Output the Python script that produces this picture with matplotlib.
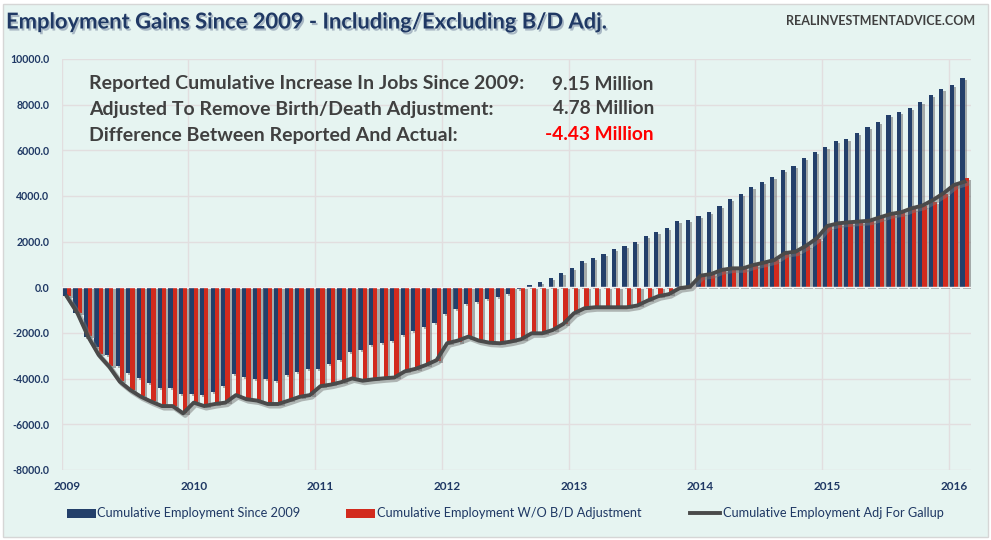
import matplotlib
matplotlib.use("Agg")
import matplotlib.pyplot as plt
import matplotlib.patheffects as pe
from matplotlib.patches import Rectangle
from matplotlib.lines import Line2D
import numpy as np

# ---------------- data ----------------
years = ["2009", "2010", "2011", "2012", "2013", "2014", "2015", "2016"]

# Cumulative employment since 2009 (thousands), Jan 2009 .. Feb 2016
reported = [
    -400, -1110, -2160, -2600, -2960, -3445, -3740, -3960, -4180, -4400, -4400, -4660,
    -4660, -4715, -4570, -4320, -3800, -3910, -4000, -4030, -4090, -3840, -3700, -3590,
    -3560, -3375, -3180, -2820, -2745, -2525, -2425, -2350, -2090, -1915, -1740, -1550,
    -1180, -935, -720, -630, -500, -410, -280, -90, 100, 230, 410, 625,
    845, 1150, 1280, 1455, 1675, 1820, 1985, 2245, 2420, 2610, 2915, 2945,
    3120, 3295, 3560, 3865, 4085, 4405, 4625, 4830, 5135, 5310, 5660, 5925,
    6140, 6405, 6495, 6755, 7020, 7240, 7545, 7675, 7850, 8115, 8420, 8680,
    8855, 9150,
]

# Cumulative employment without birth/death adjustment (thousands)
without_bd = [
    -380, -1120, -2140, -2940, -3460, -4110, -4480, -4770, -4990, -5180, -5190, -5500,
    -5040, -5180, -5100, -5040, -4700, -4880, -4950, -5100, -5100, -4950, -4790, -4715,
    -4320, -4250, -4140, -3980, -4080, -4020, -3975, -3940, -3670, -3560, -3400, -3210,
    -2460, -2380, -2235, -2330, -2420, -2440, -2370, -2265, -2010, -2005, -1860, -1605,
    -1130, -915, -870, -870, -870, -870, -790, -570, -380, -290, -30, 20,
    540, 590, 770, 830, 840, 980, 1090, 1200, 1480, 1530, 1800, 2120,
    2655, 2780, 2830, 2870, 2900, 3050, 3190, 3270, 3440, 3560, 3750, 4080,
    4550, 4780,
]

# Cumulative employment adjusted for Gallup (thousands)
gallup = [
    -410, -1140, -2160, -2960, -3475, -4130, -4500, -4790, -5010, -5200, -5200, -5520,
    -5050, -5200, -5110, -5050, -4720, -4900, -4960, -5110, -5110, -4960, -4800, -4720,
    -4330, -4260, -4150, -3990, -4090, -4030, -3985, -3950, -3680, -3570, -3400, -3190,
    -2450, -2335, -2160, -2335, -2425, -2450, -2380, -2275, -2015, -2015, -1870, -1605,
    -1140, -920, -875, -875, -875, -875, -800, -580, -390, -300, -40, 25,
    510, 580, 760, 830, 830, 975, 1080, 1195, 1500, 1560, 1820, 2145,
    2685, 2800, 2845, 2880, 2915, 3065, 3210, 3285, 3460, 3575, 3820, 4115,
    4480, 4625,
]

series_names = ["Cumulative Employment Since 2009",
                "Cumulative Employment W/O B/D Adjustment",
                "Cumulative Employment Adj For Gallup"]

stats_labels = ["Reported Cumulative Increase In Jobs Since 2009:",
                "Adjusted To Remove Birth/Death Adjustment:",
                "Difference Between Reported And Actual:"]
stats_values = ["9.15 Million", "4.78 Million", "-4.43 Million"]

title = "Employment Gains Since 2009 - Including/Excluding B/D Adj."
source = "REALINVESTMENTADVICE.COM"

# ---------------- style ----------------
W, H = 991, 540
BG = "#E6F4F1"
NAVY = "#233F6A"
RED = "#D22A1D"
LINEC = "#4A4A4A"
TXT = "#1F3864"
GRID = "#E2DEDF"
FONT = ["Lato", "DejaVu Sans"]

plt.rcParams["font.family"] = FONT

fig = plt.figure(figsize=(W / 100, H / 100), dpi=100, facecolor="white")


def fx(x):
    return x / W


def fy(y):
    return 1 - y / H


# chart-area background with light border
fig.add_artist(Rectangle((fx(3), fy(537)), fx(985), 533 / H, transform=fig.transFigure,
                         facecolor=BG, edgecolor="#D6D6D6", linewidth=1.0, zorder=0))

ax = fig.add_axes([fx(61.7), fy(470), fx(970.7) - fx(61.7), (470 - 58.9) / H])
ax.set_facecolor(BG)
ax.patch.set_alpha(0)

n = len(reported)
x = np.arange(n)
bw = 0.40

shadow = [pe.SimplePatchShadow(offset=(1.6, -1.4), shadow_rgbFace="#6E6E6E", alpha=0.55), pe.Normal()]

b1 = ax.bar(x - 0.20, reported, width=bw, color=NAVY, linewidth=0, zorder=3)
for p in b1:
    p.set_path_effects(shadow)
b2 = ax.bar(x + 0.20, without_bd, width=bw, color=RED, linewidth=0, zorder=4)
for p in b2:
    p.set_path_effects(shadow)

ln, = ax.plot(x, gallup, color=LINEC, linewidth=2.8, zorder=6, solid_joinstyle="round")
ln.set_path_effects([pe.SimpleLineShadow(offset=(1.5, -1.5), shadow_color="#777777", alpha=0.5, linewidth=3.5),
                     pe.Normal()])

ax.axhline(0, color="#F4F4F4", linewidth=1.0, zorder=5)

ax.set_xlim(-0.5, n - 0.5 + 0.08)
ax.set_ylim(-8000, 10000)
ax.set_yticks(np.arange(-8000, 10001, 2000))
ax.set_yticklabels([f"{v:.1f}" for v in np.arange(-8000, 10001, 2000)])

ax.set_xticks(np.arange(0, n, 12))
ax.set_xticklabels(years)
ax.set_xticks(np.arange(-0.5, n, 12), minor=True)
ax.tick_params(axis="both", which="both", length=0)
ax.tick_params(axis="y", pad=9, labelsize=7.6, labelcolor=TXT)
ax.tick_params(axis="x", pad=8, labelsize=8.5, labelcolor=TXT)
for lab in ax.get_xticklabels() + ax.get_yticklabels():
    lab.set_fontweight("bold")

ax.grid(axis="y", which="major", color=GRID, linewidth=1.0, zorder=0)
ax.grid(axis="x", which="minor", color=GRID, linewidth=1.0, zorder=0)
ax.grid(axis="x", which="major", visible=False)
for s in ax.spines.values():
    s.set_visible(False)

# title & source
fig.text(fx(6), fy(22), title, fontsize=15.8, fontweight="bold", color=TXT, ha="left", va="center",
         path_effects=[pe.withSimplePatchShadow(offset=(1.2, -1.5), shadow_rgbFace="#7F8FA6", alpha=0.6)])
fig.text(fx(975), fy(21), source, fontsize=9.0, fontweight="bold", color="#404040", ha="right", va="center")

# stats box
ys = [84, 109, 135]
vcol = ["#404040", "#404040", "#FF0000"]
for yy, lab, val, c in zip(ys, stats_labels, stats_values, vcol):
    fig.text(fx(89), fy(yy), lab, fontsize=14, fontweight="bold", color="#404040", ha="left", va="center")
    fig.text(fx(654), fy(yy), val, fontsize=13.8, fontweight="bold", color=c, ha="right", va="center")

# legend (manual)
ly = 513
leg_items = [("patch", NAVY, 67, 96, 97), ("patch", RED, 346, 375, 377), ("line", LINEC, 690, 720, 723)]
for (kind, col, x0, x1, tx), name in zip(leg_items, series_names):
    if kind == "patch":
        fig.add_artist(Rectangle((fx(x0), fy(ly + 4.5)), fx(x1) - fx(x0), 9 / H, transform=fig.transFigure,
                                 facecolor=col, edgecolor="none"))
    else:
        fig.add_artist(Line2D([fx(x0), fx(x1)], [fy(ly), fy(ly)], transform=fig.transFigure,
                              color=col, linewidth=2.8))
    fig.text(fx(tx), fy(ly), name, fontsize=9.2, color=TXT, ha="left", va="center")

fig.savefig("out.png", dpi=100, facecolor=fig.get_facecolor())
